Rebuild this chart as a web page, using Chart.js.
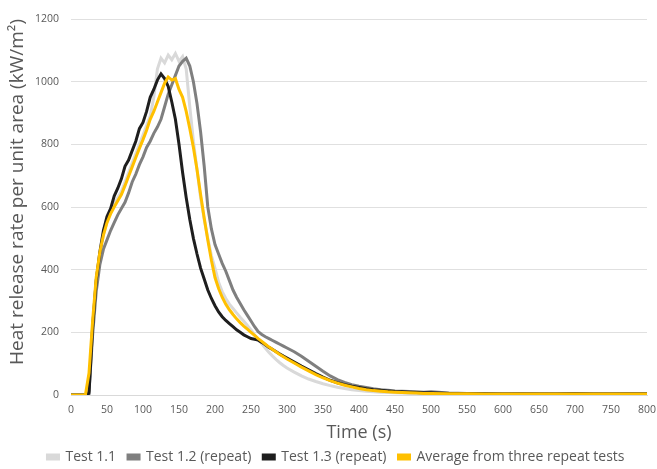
<!DOCTYPE html>
<html>
<head>
<meta charset="utf-8">
<script src="https://cdn.jsdelivr.net/npm/chart.js@4/dist/chart.umd.min.js"></script>
<style>
html,body{margin:0;padding:0;background:#fff;}
#wrap{width:657px;height:469px;}
</style>
</head>
<body>
<div id="wrap"><canvas id="c" width="657" height="469"></canvas></div>
<script>
const times = [0,10,20,
25,30,35,40,45,50,55,60,65,70,75,80,85,90,95,100,105,110,115,120,125,130,135,140,145,150,155,160,165,170,175,180,185,190,195,200,205,210,215,220,225,230,235,240,245,250,255,260,265,270,275,280,285,290,295,300,
310,320,330,340,350,360,370,380,390,400,410,420,430,440,450,460,470,480,490,500,
525,550,575,600,625,650,675,700,725,750,775,800];

const test11 = [0,0,0,
15,220,365,450,510,555,585,610,630,650,680,710,740,770,800,830,860,890,950,1040,1075,1060,1085,1070,1090,1065,1080,1040,920,810,720,630,560,500,445,405,360,330,308,290,276,262,248,235,222,208,192,178,163,149,136,124,113,103,94,86,
73,61,51,43,36,30,25,21,17,14,12,10,9,8,7,6,5,5,4,4,
3,3,3,2,2,3,2,2,3,2,2,3];

const test12 = [0,0,0,
10,190,330,415,465,495,525,550,575,595,615,645,680,705,735,760,790,810,835,855,880,920,960,990,1020,1050,1065,1075,1050,1000,930,840,730,600,530,480,450,420,395,365,335,312,292,272,254,236,218,202,193,186,180,174,168,162,156,150,
138,124,108,92,76,61,49,40,33,28,24,20,17,15,13,12,11,10,9,10,
6,5,4,4,5,4,4,5,4,4,5,5];

const test13 = [0,0,0,
5,215,365,455,525,570,595,635,660,690,730,750,780,810,850,870,905,950,975,1005,1025,1010,985,935,880,800,710,630,560,500,450,405,370,335,308,285,265,250,238,228,218,208,200,192,186,180,178,175,168,160,152,145,138,131,124,118,
105,92,80,68,57,47,39,33,28,24,20,17,15,13,11,10,9,8,7,7,
5,4,4,3,3,3,3,4,3,3,3,3];

const average = [0,0,0,
70,235,375,455,510,550,578,600,620,640,668,698,728,758,787,815,845,880,905,935,965,995,1015,1005,1010,975,950,905,850,790,720,640,565,495,430,375,340,312,290,272,257,243,231,220,210,200,190,180,171,162,153,145,137,129,122,115,
102,89,77,65,55,46,38,31,26,21,17,14,12,10,9,8,7,6,5,5,
4,4,3,3,3,3,3,3,3,3,3,3];

const seriesNames = ['Test 1.1','Test 1.2 (repeat)','Test 1.3 (repeat)','Average from three repeat tests'];
const seriesColors = ['#d9d9d9','#7f7f7f','#1e1e1e','#ffc000'];
const seriesValues = [test11, test12, test13, average];

const xTitle = 'Time (s)';
const yTitle = 'Heat release rate per unit area (kW/m\u00B2)';
const FONT = "'Open Sans', sans-serif";
const TXT = '#595959';

const datasets = seriesValues.map((vals, i) => ({
  label: seriesNames[i],
  data: times.map((t, j) => ({x: t, y: vals[j]})),
  borderColor: seriesColors[i],
  backgroundColor: seriesColors[i],
  borderWidth: 3,
  pointRadius: 0,
  tension: 0,
  fill: false,
  order: 3 - i
}));

new Chart(document.getElementById('c'), {
  type: 'line',
  data: { datasets },
  options: {
    responsive: false,
    animation: false,
    events: [],
    layout: { padding: { left: 15, right: 0, top: 19, bottom: -5 } },
    scales: {
      x: {
        type: 'linear',
        min: 0, max: 800,
        grid: { display: false, drawTicks: false },
        border: { display: true, color: '#d9d9d9', width: 1 },
        ticks: { stepSize: 50, padding: 9, color: TXT, font: { family: FONT, size: 10.5 } },
        title: { display: true, text: xTitle, color: TXT, font: { family: FONT, size: 18 }, padding: { top: 5.6, bottom: -5.8 } },
        afterFit: s => { s.height = 43; s.paddingRight = 10; s.paddingLeft = 0; }
      },
      y: {
        min: 0, max: 1200,
        grid: { color: '#e0e0e0', lineWidth: 1, drawTicks: false },
        border: { display: false },
        ticks: { stepSize: 200, padding: 12, color: TXT, font: { family: FONT, size: 10.5 },
                 callback: v => String(v) },
        title: { display: true, text: yTitle, align: 'end', color: TXT, font: { family: FONT, size: 19 }, padding: { top: -8.4, bottom: 0 } },
        afterFit: s => { s.width = 56; }
      }
    },
    plugins: {
      tooltip: { enabled: false },
      legend: {
        position: 'bottom',
        labels: {
          boxWidth: 11, boxHeight: 4,
          padding: 12,
          color: TXT,
          font: { family: FONT, size: 14 },
          sort: (a, b) => a.datasetIndex - b.datasetIndex
        }
      }
    }
  }
});
</script>
</body>
</html>
